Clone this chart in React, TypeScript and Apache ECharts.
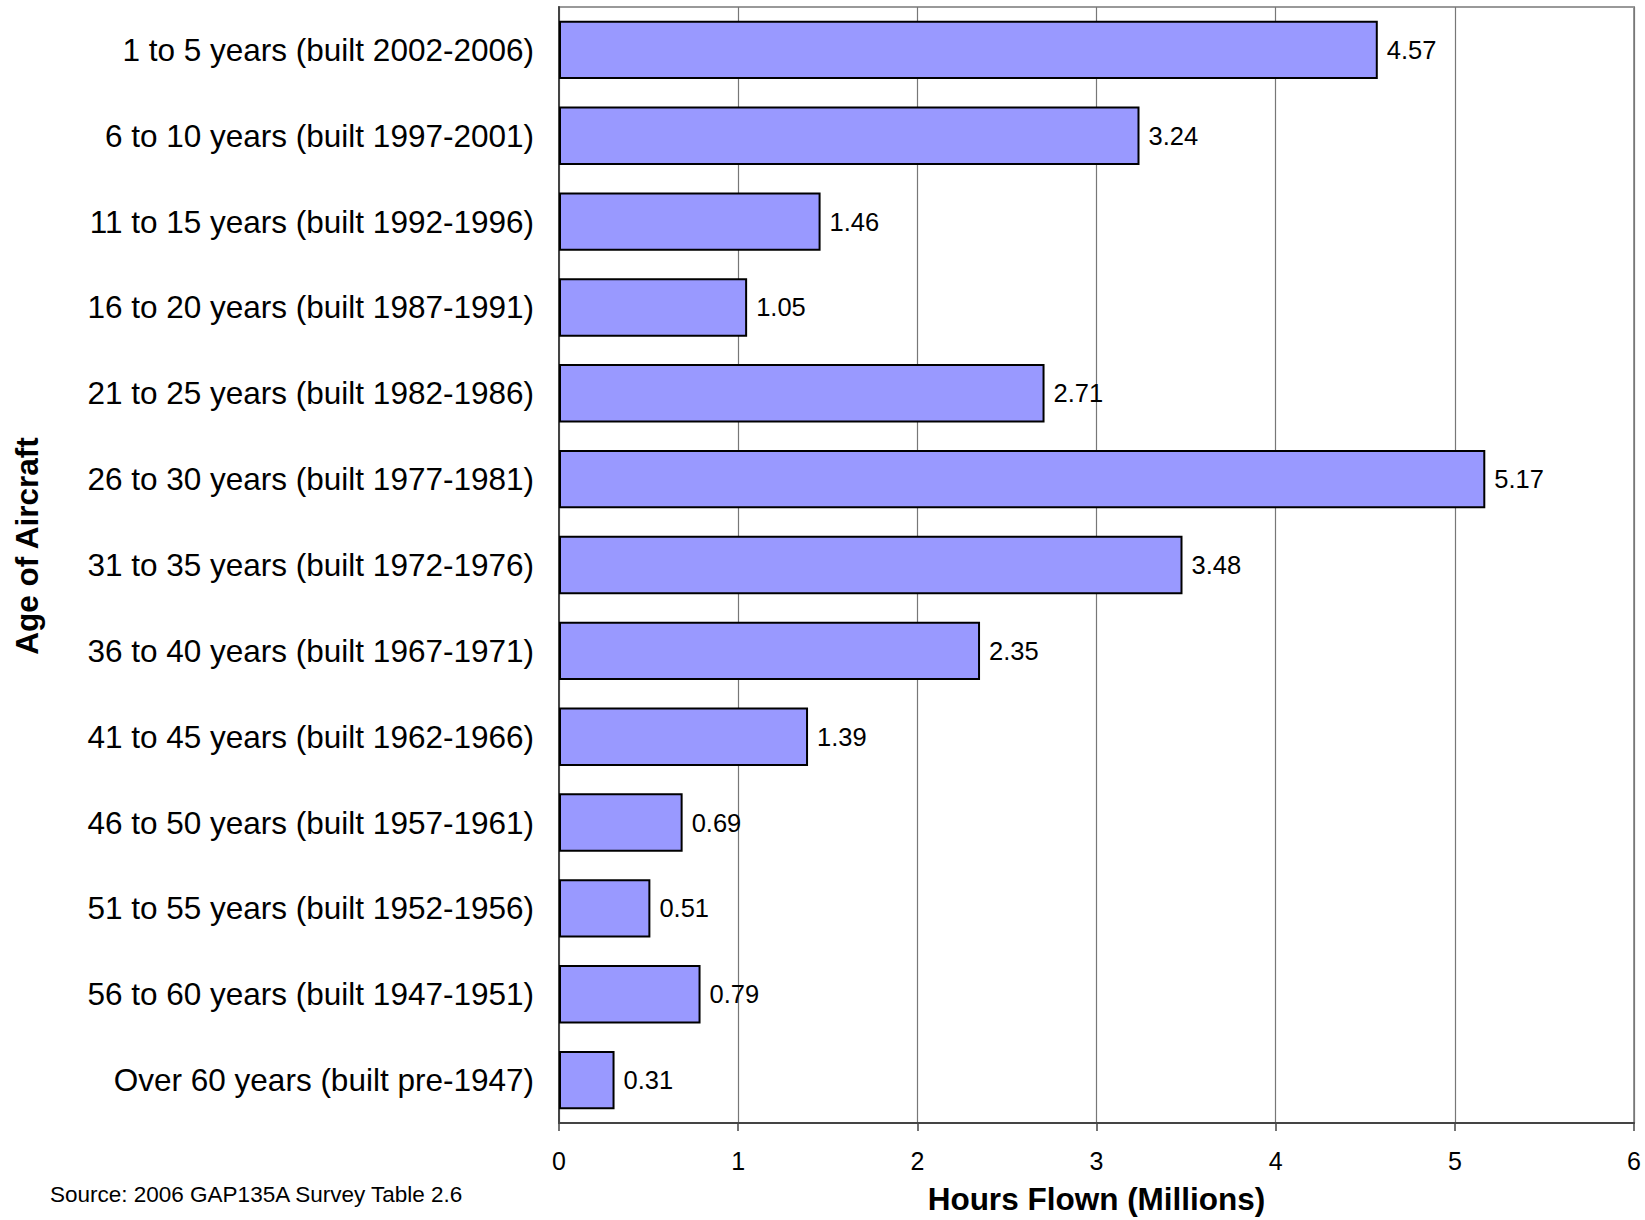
import React, { useEffect, useRef } from "react";
import * as echarts from "echarts";

const categories = [
  "1 to 5 years (built 2002-2006)",
  "6 to 10 years (built 1997-2001)",
  "11 to 15 years (built 1992-1996)",
  "16 to 20 years (built 1987-1991)",
  "21 to 25 years (built 1982-1986)",
  "26 to 30 years (built 1977-1981)",
  "31 to 35 years (built 1972-1976)",
  "36 to 40 years (built 1967-1971)",
  "41 to 45 years (built 1962-1966)",
  "46 to 50 years (built 1957-1961)",
  "51 to 55 years (built 1952-1956)",
  "56 to 60 years (built 1947-1951)",
  "Over 60 years (built pre-1947)",
];

const hoursFlown = [4.57, 3.24, 1.46, 1.05, 2.71, 5.17, 3.48, 2.35, 1.39, 0.69, 0.51, 0.79, 0.31];

const xAxisTitle = "Hours Flown (Millions)";
const yAxisTitle = "Age of Aircraft";
const sourceNote = "Source: 2006 GAP135A Survey Table 2.6";

const FONT = "'Liberation Sans', Arial, Helvetica, sans-serif";

export default function App() {
  const ref = useRef<HTMLDivElement>(null);

  useEffect(() => {
    if (!ref.current) return;
    const chart = echarts.init(ref.current, null, { renderer: "svg" });
    chart.setOption({
      animation: false,
      backgroundColor: "#ffffff",
      textStyle: { fontFamily: FONT },
      grid: {
        left: 559,
        right: 11,
        top: 7,
        bottom: 93,
        show: true,
        borderColor: "#999999",
        borderWidth: 2,
        backgroundColor: "transparent",
      },
      xAxis: {
        type: "value",
        min: 0,
        max: 6,
        interval: 1,
        name: xAxisTitle,
        nameLocation: "middle",
        nameGap: 60,
        nameTextStyle: {
          fontFamily: FONT,
          fontSize: 31.5,
          fontWeight: "bold",
          color: "#000",
        },
        axisLine: { show: true, lineStyle: { color: "#444", width: 2 } },
        axisTick: { show: true, inside: false, length: 8, lineStyle: { color: "#444", width: 1.5 } },
        axisLabel: { fontFamily: FONT, fontSize: 25, color: "#000", margin: 25 },
        splitLine: { show: true, lineStyle: { color: "#777", width: 1.2 } },
      },
      yAxis: {
        type: "category",
        data: categories,
        inverse: true,
        axisLine: { show: true, lineStyle: { color: "#444", width: 2 } },
        axisTick: { show: false },
        axisLabel: { fontFamily: FONT, fontSize: 31.5, color: "#000", margin: 25 },
        splitLine: { show: false },
      },
      series: [
        {
          type: "bar",
          data: hoursFlown,
          barWidth: "68%",
          itemStyle: { color: "#9999FF", borderColor: "#000", borderWidth: 2 },
          label: {
            show: true,
            position: "right",
            distance: 9,
            fontFamily: FONT,
            fontSize: 25.5,
            color: "#000",
            formatter: (p: any) => Number(p.value).toFixed(2),
          },
        },
      ],
      graphic: [
        {
          type: "text",
          x: 27,
          y: 546,
          rotation: Math.PI / 2,
          style: {
            text: yAxisTitle,
            fontFamily: FONT,
            fontSize: 31.5,
            fontWeight: "bold",
            fill: "#000",
            align: "center",
            verticalAlign: "middle",
          },
        },
        {
          type: "text",
          x: 50,
          y: 1194,
          style: {
            text: sourceNote,
            fontFamily: FONT,
            fontSize: 22.5,
            fill: "#000",
            align: "left",
            verticalAlign: "middle",
          },
        },
      ],
    });
    return () => chart.dispose();
  }, []);

  return (
    <div
      ref={ref}
      style={{ position: "absolute", left: 0, top: 0, width: 1645, height: 1220 }}
    />
  );
}
